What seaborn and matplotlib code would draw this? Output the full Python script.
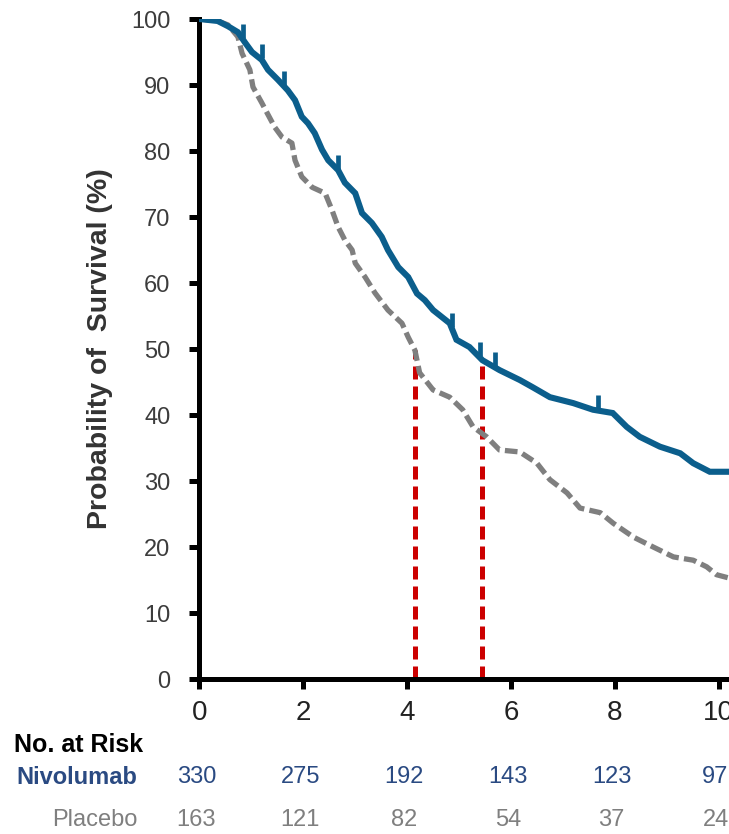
import matplotlib
matplotlib.use("Agg")
import matplotlib.pyplot as plt
from matplotlib.transforms import blended_transform_factory
import numpy as np
import pandas as pd
import seaborn as sns

# Kaplan-Meier estimates (months, % surviving)
nivo_time = [0, 0.35, 0.55, 0.74, 0.88, 1.01, 1.2, 1.32, 1.51, 1.7, 1.84, 1.97, 2.09,
             2.22, 2.36, 2.48, 2.67, 2.8, 3.0, 3.13, 3.32, 3.51, 3.63, 3.83, 4.02,
             4.19, 4.34, 4.5, 4.82, 4.95, 5.2, 5.45, 5.78, 6.17, 6.42, 6.75, 7.2,
             7.58, 7.96, 8.23, 8.48, 8.87, 9.26, 9.51, 9.83, 10.2]
nivo_surv = [100, 99.7, 98.9, 98.0, 96.4, 95.0, 93.8, 92.3, 90.8, 89.2, 87.7, 85.2, 84.2,
             82.7, 80.2, 78.6, 77.1, 75.2, 73.6, 70.6, 69.1, 67.0, 65.0, 62.4, 60.9,
             58.4, 57.4, 55.9, 53.9, 51.4, 50.3, 48.3, 46.8, 45.3, 44.2, 42.7, 41.8,
             40.8, 40.3, 38.2, 36.7, 35.2, 34.2, 32.7, 31.4, 31.4]

plac_time = [0, 0.35, 0.55, 0.74, 0.82, 0.97, 1.03, 1.2, 1.3, 1.45, 1.59, 1.78, 1.84,
             1.97, 2.17, 2.42, 2.55, 2.67, 2.8, 2.94, 3.0, 3.19, 3.38, 3.63, 3.9,
             4.02, 4.15, 4.24, 4.5, 4.82, 5.07, 5.27, 5.53, 5.78, 6.17, 6.5, 6.75,
             7.08, 7.33, 7.72, 7.97, 8.36, 8.74, 9.13, 9.51, 9.77, 9.96, 10.2]
plac_surv = [100, 99.7, 99.1, 97.3, 94.8, 92.3, 89.7, 87.3, 85.8, 83.6, 82.1, 81.2, 78.6,
             76.1, 74.5, 73.6, 71.1, 68.5, 66.5, 65.0, 63.0, 60.9, 58.5, 55.9, 53.9,
             51.8, 49.8, 46.4, 43.8, 42.7, 40.8, 38.2, 36.7, 34.7, 34.4, 32.7, 30.2,
             28.2, 25.9, 25.2, 23.6, 21.5, 20.0, 18.5, 18.0, 17.0, 15.8, 15.3]

# Censored observations on the nivolumab arm
nivo_censor = [0.84, 1.2, 1.63, 2.67, 4.86, 5.4, 5.69, 7.67]

# Median overall survival (months) and the survival level where it is read
median_os = [4.15, 5.45]
median_level = [49.8, 48.3]

# Number at risk
risk_times = [0, 2, 4, 6, 8, 10]
nivo_risk = [330, 275, 192, 143, 123, 97]
plac_risk = [163, 121, 82, 54, 37, 24]

x_ticks = [0, 2, 4, 6, 8, 10]
y_ticks = [0, 10, 20, 30, 40, 50, 60, 70, 80, 90, 100]

BLUE = "#0b5e8c"
GREY = "#7f7f7f"
RED = "#cc0000"
NAVY = "#2a4a82"

sns.set_theme(style="white")
plt.rcParams["font.family"] = ["Liberation Sans", "DejaVu Sans"]

W, H = 729, 834
fig = plt.figure(figsize=(W / 100, H / 100), dpi=100)
x0, x1 = 199.5, 729
y_top, y_bot = 19, 679
ax = fig.add_axes([x0 / W, 1 - y_bot / H, (x1 - x0) / W, (y_bot - y_top) / H])

nivo_df = pd.DataFrame({"t": nivo_time, "s": nivo_surv})
plac_df = pd.DataFrame({"t": plac_time, "s": plac_surv})

# Median reference lines
ax.vlines(median_os, 0, median_level, colors=RED, linewidth=3.6,
          linestyles=(0, (2.6, 1.4)), zorder=2)

sns.lineplot(data=plac_df, x="t", y="s", ax=ax, color=GREY, linewidth=3.8,
             estimator=None, sort=False, zorder=3)
ax.lines[-1].set_dashes((2.4, 1.0))
sns.lineplot(data=nivo_df, x="t", y="s", ax=ax, color=BLUE, linewidth=4.4,
             estimator=None, sort=False, zorder=4)
ax.lines[-1].set_solid_joinstyle("miter")

cens_y = [np.interp(t, nivo_time, nivo_surv) + 1.3 for t in nivo_censor]
ax.plot(nivo_censor, cens_y, linestyle="none", marker="|", markersize=10,
        markeredgewidth=3.4, color=BLUE, zorder=5)

ax.set_xlim(0, 10.2)
ax.set_ylim(0, 100)
ax.set_xticks(x_ticks)
ax.set_yticks(y_ticks)
ax.set_xlabel("")
ax.set_ylabel("Probability of  Survival (%)", fontsize=20.5, fontweight="bold",
              color="#333333", labelpad=13)

for side in ("top", "right"):
    ax.spines[side].set_visible(False)
for side in ("left", "bottom"):
    ax.spines[side].set_color("black")
    ax.spines[side].set_linewidth(3.6)
    ax.spines[side].set_capstyle("projecting")

ax.tick_params(axis="both", direction="out", length=7, width=3.6, color="black",
               left=True, bottom=True)
ax.tick_params(axis="y", labelsize=17, labelcolor="#3c3c3c", pad=14)
ax.tick_params(axis="x", labelsize=20, labelcolor="#222222", pad=8)

# Number-at-risk table below the axis
tr = blended_transform_factory(ax.transData, fig.transFigure)
fig.text(14 / W, 1 - 745 / H, "No. at Risk", fontsize=18, fontweight="bold",
         color="black", ha="left", va="center")
fig.text(137 / W, 1 - 777 / H, "Nivolumab", fontsize=17, fontweight="semibold",
         color=NAVY, ha="right", va="center")
fig.text(137 / W, 1 - 820 / H, "Placebo", fontsize=17, color=GREY,
         ha="right", va="center")
for t, n, p in zip(risk_times, nivo_risk, plac_risk):
    ax.text(t - 0.06, 1 - 777 / H, str(n), transform=tr, fontsize=17, color=NAVY,
            ha="center", va="center", clip_on=False)
    ax.text(t - 0.06, 1 - 820 / H, str(p), transform=tr, fontsize=17, color=GREY,
            ha="center", va="center", clip_on=False)

fig.savefig("out.png", dpi=100)
